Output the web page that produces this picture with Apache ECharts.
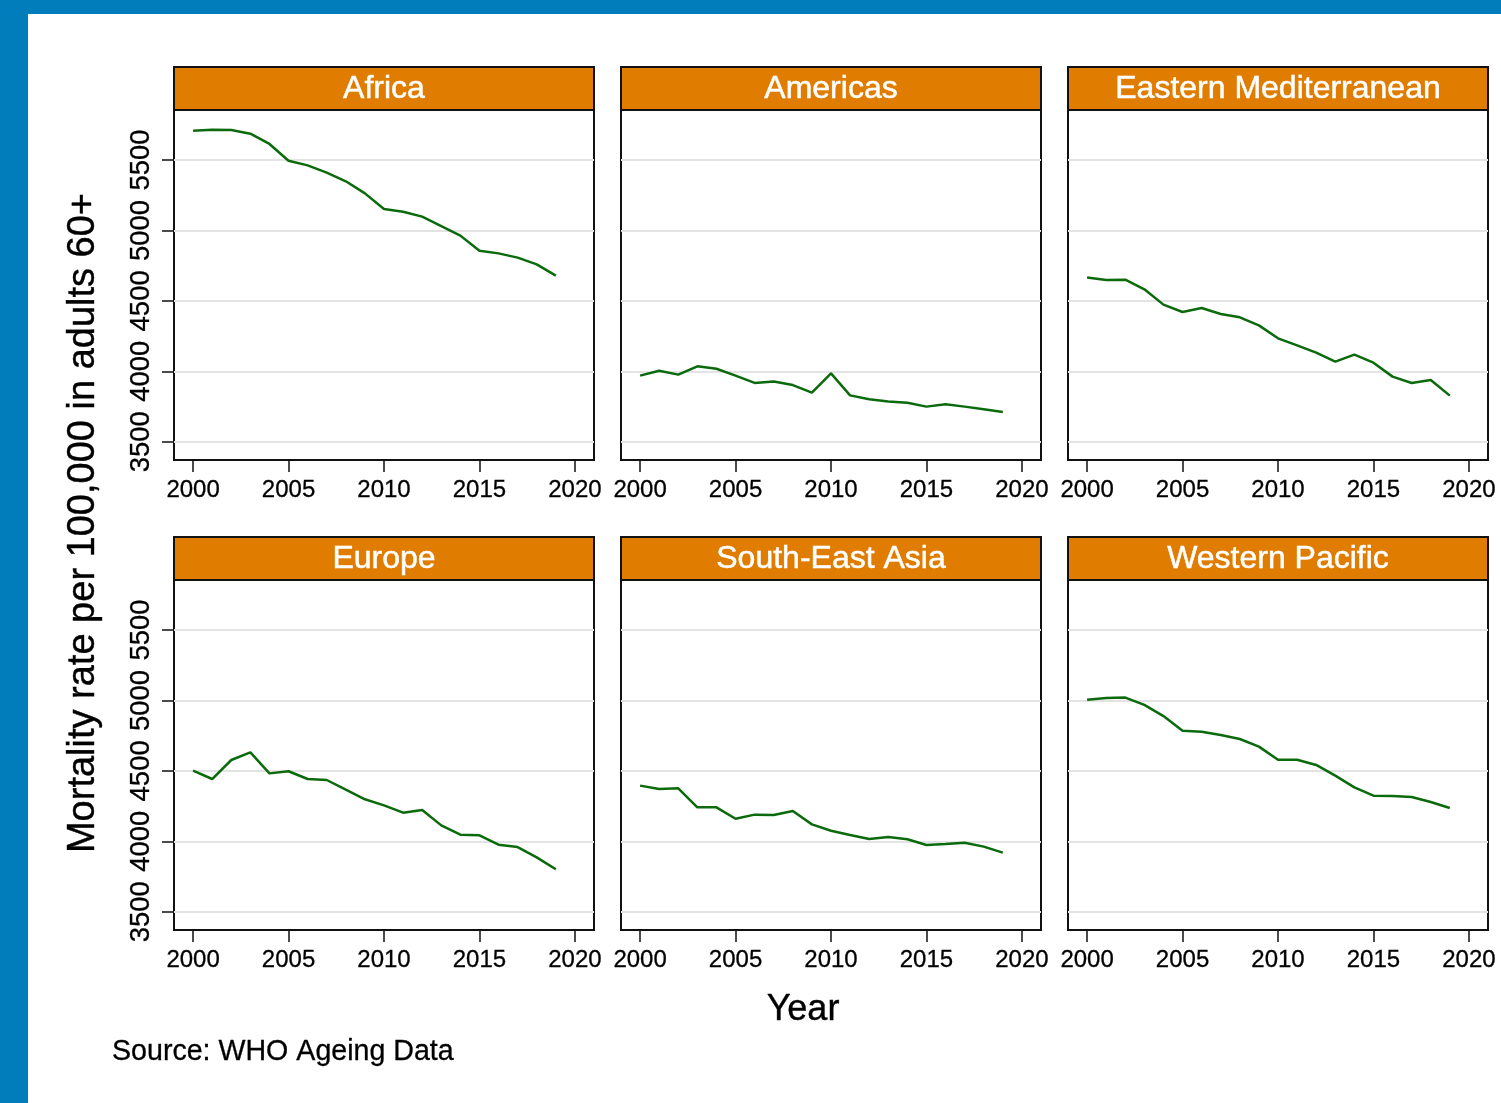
<!DOCTYPE html>
<html>
<head>
<meta charset="utf-8">
<script src="https://cdn.jsdelivr.net/npm/echarts@6/dist/echarts.min.js"></script>
<style>
html,body{margin:0;padding:0;background:#fff;}
#chart{width:1501px;height:1103px;}
</style>
</head>
<body>
<div id="chart"></div>
<script>
// ---- data ----
const years = [2000,2001,2002,2003,2004,2005,2006,2007,2008,2009,2010,2011,2012,2013,2014,2015,2016,2017,2018,2019];
const regions = ["Africa","Americas","Eastern Mediterranean","Europe","South-East Asia","Western Pacific"];
const africa = [5708,5715,5713,5687,5614,5495,5462,5410,5349,5263,5152,5133,5098,5031,4963,4856,4837,4807,4759,4679];
const americas = [3969,4004,3976,4035,4018,3969,3917,3928,3902,3848,3985,3829,3801,3786,3777,3749,3765,3749,3730,3711];
const eastMed = [4665,4648,4650,4582,4473,4421,4449,4407,4383,4326,4234,4184,4132,4068,4118,4061,3962,3917,3938,3827];
const europe = [4501,4442,4577,4631,4482,4497,4442,4435,4366,4298,4255,4203,4222,4113,4047,4042,3976,3959,3886,3801];
const seAsia = [4395,4371,4376,4241,4241,4160,4189,4186,4215,4120,4075,4044,4016,4030,4014,3973,3981,3990,3962,3919];
const westPac = [5005,5017,5020,4968,4889,4785,4778,4754,4726,4672,4579,4579,4542,4466,4383,4324,4321,4314,4279,4236];
const yTicks = [3500,4000,4500,5000,5500];
const xTicks = [2000,2005,2010,2015,2020];
const yTitle = "Mortality rate per 100,000 in adults 60+";
const xTitle = "Year";
const source = "Source: WHO Ageing Data";

const seriesValues = [africa, americas, eastMed, europe, seAsia, westPac];

// ---- layout ----
const FONT = "'Liberation Sans', Arial, Helvetica, sans-serif";
const colLeft = [174, 621, 1068];
const rowTop = [110, 580];
const W = 420, H = 350, STRIP = 43;

const grids = [], xAxes = [], yAxes = [], series = [], graphics = [];

graphics.push({type:'rect', shape:{x:0,y:0,width:1501,height:14}, style:{fill:'#007DBA'}, silent:true});
graphics.push({type:'rect', shape:{x:0,y:0,width:28,height:1103}, style:{fill:'#007DBA'}, silent:true});

regions.forEach((name, i) => {
  const c = i % 3, r = Math.floor(i / 3);
  const left = colLeft[c], top = rowTop[r];
  grids.push({left: left, top: top, width: W, height: H, show: true,
    backgroundColor: '#fff', borderColor: '#111', borderWidth: 2, containLabel: false});
  xAxes.push({
    type: 'value', gridIndex: i, min: 1999, max: 2021,
    axisLine: {show: false},
    axisTick: {show: true, inside: false, length: 12, lineStyle: {color: '#111', width: 1.5}, customValues: xTicks},
    axisLabel: {show: true, fontSize: 24, color: '#000', fontFamily: FONT, margin: 18, customValues: xTicks,
      textBorderColor: '#000', textBorderWidth: 0.3, formatter: v => String(v)},
    splitLine: {show: false}
  });
  yAxes.push({
    type: 'value', gridIndex: i, min: 3370, max: 5855,
    axisLine: {show: false},
    axisTick: {show: c === 0, inside: false, length: 12, lineStyle: {color: '#111', width: 1.5}, customValues: yTicks},
    axisLabel: {show: c === 0, rotate: 90, fontSize: 27.5, color: '#000', fontFamily: FONT, margin: 19, customValues: yTicks,
      textBorderColor: '#000', textBorderWidth: 0.3, formatter: v => String(v)},
    splitLine: {show: true, lineStyle: {color: '#e3e3e3', width: 2}}
  });
  series.push({
    type: 'line', name: name, xAxisIndex: i, yAxisIndex: i,
    data: years.map((y, j) => [y, seriesValues[i][j]]),
    showSymbol: false, symbol: 'none', silent: true, animation: false,
    lineStyle: {color: '#0b6a0b', width: 2.5}
  });
  graphics.push({
    type: 'rect', shape: {x: left, y: top - STRIP, width: W, height: STRIP},
    style: {fill: '#E07C00', stroke: '#111', lineWidth: 2}, silent: true, z: 10
  });
  graphics.push({
    type: 'text', x: left + W / 2, y: top - STRIP / 2 + 1, silent: true, z: 11,
    style: {text: name, fill: '#fff', font: '32px ' + FONT, textAlign: 'center', textVerticalAlign: 'middle',
      stroke: '#fff', lineWidth: 0.5}
  });
});

graphics.push({type:'text', x: 84, y: 523, rotation: Math.PI/2, silent: true,
  style:{text: yTitle, fill:'#000', font: '38px ' + FONT, textAlign:'center', textVerticalAlign:'middle',
    stroke:'#000', lineWidth:0.4}});
graphics.push({type:'text', x: 803, y: 1010, silent: true,
  style:{text: xTitle, fill:'#000', font: '36px ' + FONT, textAlign:'center', textVerticalAlign:'middle',
    stroke:'#000', lineWidth:0.4}});
graphics.push({type:'text', x: 112, y: 1052, silent: true,
  style:{text: source, fill:'#000', font: '28.6px ' + FONT, textAlign:'left', textVerticalAlign:'middle',
    stroke:'#000', lineWidth:0.3}});

const chart = echarts.init(document.getElementById('chart'), null, {renderer: 'canvas', width: 1501, height: 1103});
chart.setOption({
  backgroundColor: '#fff',
  animation: false,
  grid: grids, xAxis: xAxes, yAxis: yAxes, series: series,
  graphic: graphics
});
</script>
</body>
</html>
